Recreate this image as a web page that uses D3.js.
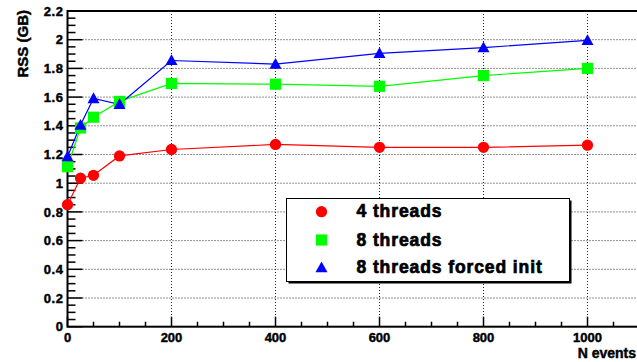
<!DOCTYPE html>
<html>
<head>
<meta charset="utf-8">
<script src="https://cdn.jsdelivr.net/npm/d3@7"></script>
<style>
  html, body { margin: 0; padding: 0; background: #fff; }
  svg { display: block; font-family: "Liberation Sans", Arial, sans-serif; font-weight: bold; }
  text { stroke: #000; stroke-width: 0.45px; }
</style>
</head>
<body>
<div id="chart"></div>
<script>
// data
const nEvents = [0, 25, 50, 100, 200, 400, 600, 800, 1000];
const rss4 = [0.85, 1.035, 1.055, 1.19, 1.235, 1.27, 1.25, 1.25, 1.265];
const rss8 = [1.115, 1.385, 1.46, 1.57, 1.695, 1.69, 1.675, 1.75, 1.8];
const rss8f = [1.185, 1.405, 1.59, 1.55, 1.855, 1.83, 1.905, 1.945, 1.995];
const seriesNames = ["4 threads", "8 threads", "8 threads forced init"];
const xTicks = [0, 200, 400, 600, 800, 1000];
const yTicks = [0, 0.2, 0.4, 0.6, 0.8, 1, 1.2, 1.4, 1.6, 1.8, 2, 2.2];

const W = 637, H = 362;
const margin = { left: 67.5, top: 11, right: -2.5, bottom: 35.3 };
const pw = W - margin.left - margin.right;
const ph = H - margin.top - margin.bottom;

const svg = d3.select("#chart").append("svg").attr("width", W).attr("height", H);
const g = svg.append("g").attr("transform", `translate(${margin.left},${margin.top})`);

const x = d3.scaleLinear().domain([0, 1100]).range([0, pw]);
const y = d3.scaleLinear().domain([0, 2.2]).range([ph, 0]);

// grid
const grid = g.append("g").attr("stroke", "#222").attr("stroke-width", 1).attr("stroke-dasharray", "1,2");
grid.selectAll("line.gx").data(xTicks.slice(1)).join("line")
  .attr("x1", d => x(d)).attr("x2", d => x(d)).attr("y1", 0).attr("y2", ph);
grid.selectAll("line.gy").data(yTicks.slice(1, -1)).join("line")
  .attr("x1", 0).attr("x2", pw).attr("y1", d => y(d)).attr("y2", d => y(d));

// minor + major ticks (drawn inside the frame, ROOT style)
const yMinor = d3.range(0, 2.2001, 0.05);
g.append("g").selectAll("line").data(yMinor).join("line")
  .attr("x1", 0).attr("x2", (d, i) => i % 4 === 0 ? 15 : 8)
  .attr("y1", d => y(d)).attr("y2", d => y(d))
  .attr("stroke", "#000").attr("stroke-width", 1.5);
const xMinor = d3.range(0, 1100.1, 50);
g.append("g").selectAll("line").data(xMinor).join("line")
  .attr("x1", d => x(d)).attr("x2", d => x(d))
  .attr("y1", ph).attr("y2", (d, i) => ph - (i % 4 === 0 ? 10 : 5))
  .attr("stroke", "#000").attr("stroke-width", 1.5);

// frame
g.append("rect").attr("width", pw).attr("height", ph)
  .attr("fill", "none").attr("stroke", "#000").attr("stroke-width", 2);

// tick labels
g.append("g").selectAll("text").data(yTicks).join("text")
  .attr("x", -4).attr("y", d => y(d)).attr("dy", "0.36em")
  .attr("text-anchor", "end").attr("font-size", 13).attr("letter-spacing", 0.6)
  .text(d => d3.format("~g")(d));
g.append("g").selectAll("text").data(xTicks).join("text")
  .attr("x", d => x(d)).attr("y", ph + 15.5)
  .attr("text-anchor", "middle").attr("font-size", 13)
  .text(d => d);

// axis titles
svg.append("text").attr("transform", "translate(28,10) rotate(-90)")
  .attr("text-anchor", "end").attr("font-size", 15).text("RSS (GB)");
svg.append("text").attr("x", 636).attr("y", 357.5)
  .attr("text-anchor", "end").attr("font-size", 14).text("N events");

// series
const series = [
  { name: seriesNames[0], values: rss4, color: "#ff0000", shape: "circle" },
  { name: seriesNames[1], values: rss8, color: "#00ff00", shape: "square" },
  { name: seriesNames[2], values: rss8f, color: "#0000ff", shape: "triangle" }
];
function symbolPath(s) {
  if (s.shape === "circle") return d3.symbol(d3.symbolCircle, 100)();
  if (s.shape === "square") return d3.symbol(d3.symbolSquare, 125)();
  return "M0,-6.2L6,4.6L-6,4.6Z";
}
const line = d3.line().x(d => x(d[0])).y(d => y(d[1]));

series.forEach(s => {
  const pts = nEvents.map((n, i) => [n, s.values[i]]);
  g.append("path").datum(pts).attr("d", line)
    .attr("fill", "none").attr("stroke", s.color).attr("stroke-width", 1.2);
});
series.forEach(s => {
  const pts = nEvents.map((n, i) => [n, s.values[i]]);
  g.append("g").selectAll("path").data(pts).join("path")
    .attr("transform", d => `translate(${x(d[0])},${y(d[1])})`)
    .attr("d", symbolPath(s)).attr("fill", s.color);
});

// legend
const lg = svg.append("g").attr("transform", "translate(286.5,198.5)");
lg.append("rect").attr("x", 2).attr("y", 2).attr("width", 283).attr("height", 83).attr("fill", "#000");
lg.append("rect").attr("width", 283).attr("height", 83).attr("fill", "#fff").attr("stroke", "#000").attr("stroke-width", 1);
const rows = [13.2, 41.5, 69.2];
series.forEach((s, i) => {
  lg.append("path").attr("transform", `translate(35,${rows[i]})`).attr("d", symbolPath(s)).attr("fill", s.color);
  lg.append("text").attr("x", 70).attr("y", rows[i] + 5.5)
    .attr("font-size", 17.5).attr("letter-spacing", 0.9).style("stroke-width", "0.7px").text(s.name);
});
</script>
</body>
</html>
